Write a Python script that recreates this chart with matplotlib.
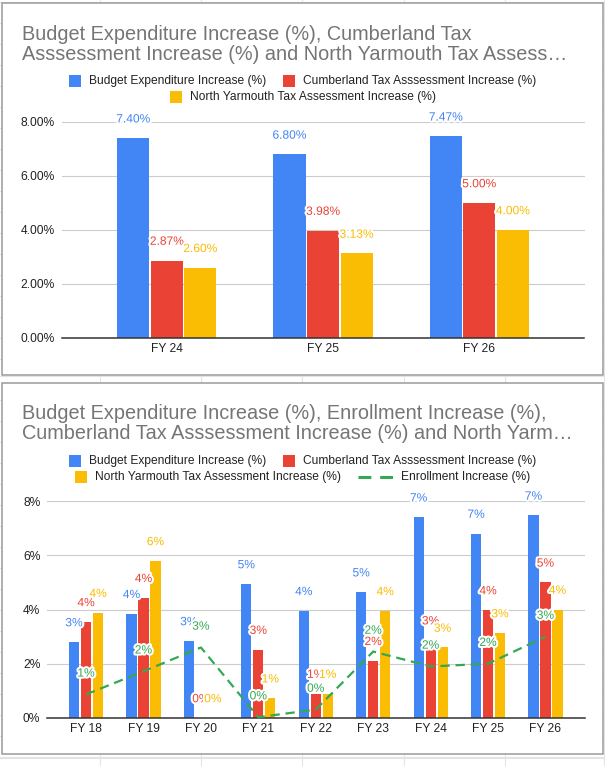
import matplotlib
matplotlib.use('Agg')
import matplotlib.pyplot as plt
import matplotlib.patheffects as pe
from matplotlib.patches import Rectangle
from matplotlib.lines import Line2D
import numpy as np

# ---------------- data ----------------
categories = ['FY 18', 'FY 19', 'FY 20', 'FY 21', 'FY 22', 'FY 23', 'FY 24', 'FY 25', 'FY 26']
budget = [2.80, 3.84, 2.84, 4.94, 3.95, 4.64, 7.40, 6.80, 7.47]
cumberland = [3.54, 4.43, 0.00, 2.52, 0.90, 2.11, 2.87, 3.98, 5.00]
north_yarmouth = [3.88, 5.79, 0.00, 0.73, 0.90, 3.95, 2.60, 3.13, 4.00]
enrollment = [0.87, 1.72, 2.60, 0.03, 0.31, 2.45, 1.90, 2.00, 3.00]

top_categories = ['FY 24', 'FY 25', 'FY 26']
top_budget = [7.40, 6.80, 7.47]
top_cumberland = [2.87, 3.98, 5.00]
top_north_yarmouth = [2.60, 3.13, 4.00]

top_yticks = [0, 2, 4, 6, 8]
top_yticklabels = ['0.00%', '2.00%', '4.00%', '6.00%', '8.00%']
bot_yticks = [0, 2, 4, 6, 8]
bot_yticklabels = ['0%', '2%', '4%', '6%', '8%']

name_budget = 'Budget Expenditure Increase (%)'
name_cumb = 'Cumberland Tax Asssessment Increase (%)'
name_ny = 'North Yarmouth Tax Assessment Increase (%)'
name_enr = 'Enrollment Increase (%)'

BLUE = '#4285F4'
RED = '#EA4335'
YELLOW = '#FBBC04'
GREEN = '#34A853'
TITLE_C = '#757575'
TEXT_C = '#222222'

plt.rcParams['font.family'] = ['Liberation Sans', 'DejaVu Sans']

W, H = 605, 766
fig = plt.figure(figsize=(W / 100, H / 100), dpi=100)
fig.patch.set_facecolor('white')

FS = 8.64  # 12 px


def fx(x):
    return x / W


def fy(y):
    return 1 - y / H


# spreadsheet background grid
for x in [100, 201, 302, 403.5, 504.6, 603.5]:
    fig.add_artist(Line2D([fx(x), fx(x)], [0, 1], transform=fig.transFigure,
                          color='#e3e3e3', lw=0.8, zorder=-5))
for y in list(np.arange(2.3, 380, 21.0)) + [376, 757.5]:
    fig.add_artist(Line2D([0, 1], [fy(y), fy(y)], transform=fig.transFigure,
                          color='#e3e3e3', lw=0.8, zorder=-5))
for y in np.arange(400, 766, 21.0):
    fig.add_artist(Line2D([0, 1], [fy(y), fy(y)], transform=fig.transFigure,
                          color='#e3e3e3', lw=0.8, zorder=-5))

# panels
for (y0, y1) in [(3, 374.7), (383, 754.3)]:
    fig.add_artist(Rectangle((fx(2), fy(y1)), fx(602.7) - fx(2), fy(y0) - fy(y1),
                             transform=fig.transFigure, facecolor='white',
                             edgecolor='#9a9a9a', lw=1.1, zorder=-1))

halo = [pe.withStroke(linewidth=3, foreground='white')]


def title(lines, y_base):
    for i, t in enumerate(lines):
        fig.text(fx(22), fy(y_base + 20 * i), t, fontsize=14.3, color=TITLE_C,
                 va='baseline', ha='left')


def legend_row(items, yc):
    sq = 12
    gap = 8
    spacing = 17
    renderer = fig.canvas.get_renderer()
    widths = []
    texts = []
    for kind, color, label in items:
        t = fig.text(0, 0, label, fontsize=FS, color=TEXT_C, va='center', ha='left')
        bb = t.get_window_extent(renderer)
        widths.append(bb.width)
        texts.append(t)
    hw = [sq if k == 'sq' else 35 for k, _, _ in items]
    total = sum(hw) + sum(widths) + gap * len(items) + spacing * (len(items) - 1)
    x = W / 2 - total / 2
    for (kind, color, label), t, w, h in zip(items, texts, widths, hw):
        if kind == 'sq':
            fig.add_artist(Rectangle((fx(x), fy(yc + sq / 2)), sq / W, sq / H,
                                     transform=fig.transFigure, facecolor=color,
                                     edgecolor='none'))
        else:
            fig.add_artist(Line2D([fx(x), fx(x + 35)], [fy(yc), fy(yc)],
                                  transform=fig.transFigure, color=color, lw=2.2,
                                  dashes=(4.2, 2.9), dash_capstyle='butt'))
        x += h + gap
        t.set_position((fx(x), fy(yc)))
        x += w + spacing


def style_axes(ax, yticks, yticklabels, cats, xlim):
    ax.set_facecolor('none')
    ax.set_ylim(0, 8)
    ax.set_xlim(*xlim)
    ax.set_yticks(yticks)
    ax.set_yticklabels(yticklabels)
    ax.set_xticks(np.arange(len(cats)))
    ax.set_xticklabels(cats)
    ax.tick_params(axis='both', length=0, labelsize=FS, labelcolor=TEXT_C)
    ax.tick_params(axis='y', pad=4.8)
    ax.tick_params(axis='x', pad=3.5)
    for s in ['top', 'right', 'left']:
        ax.spines[s].set_visible(False)
    ax.spines['bottom'].set_color('#333333')
    ax.spines['bottom'].set_linewidth(1.1)
    ax.spines['bottom'].set_zorder(3)
    ax.grid(axis='y', color='#cccccc', lw=0.8)
    ax.set_axisbelow(True)


def bar_labels(ax, xs, vals, color, fmt, off=13.5):
    for x, v in zip(xs, vals):
        ax.annotate(fmt.format(v), (x, v), xytext=(0, off), textcoords='offset points',
                    ha='center', va='center', fontsize=FS, color=color,
                    path_effects=halo, zorder=6, annotation_clip=False)


# ---------------- top chart ----------------
title(['Budget Expenditure Increase (%), Cumberland Tax',
       'Asssessment Increase (%) and North Yarmouth Tax Assess\u2026'], 39.5)
legend_row([('sq', BLUE, name_budget), ('sq', RED, name_cumb)], 80.7)
legend_row([('sq', YELLOW, name_ny)], 96.7)

ax1 = fig.add_axes([fx(61.7), fy(338), (584.5 - 61.7) / W, (338 - 122) / H])
style_axes(ax1, top_yticks, top_yticklabels, top_categories, (-0.673, 2.673))
x = np.arange(len(top_categories))
bw, st = 0.205, 0.215
for off, vals, c in [(-st, top_budget, BLUE), (0, top_cumberland, RED), (st, top_north_yarmouth, YELLOW)]:
    ax1.bar(x + off, vals, width=bw, color=c, zorder=2)
    bar_labels(ax1, x + off, vals, c, '{:.2f}%')

# ---------------- bottom chart ----------------
title(['Budget Expenditure Increase (%), Enrollment Increase (%),',
       'Cumberland Tax Asssessment Increase (%) and North Yarm\u2026'], 419.3)
legend_row([('sq', BLUE, name_budget), ('sq', RED, name_cumb)], 460.7)
legend_row([('sq', YELLOW, name_ny), ('line', GREEN, name_enr)], 476.7)

ax2 = fig.add_axes([fx(47), fy(718), (584.5 - 47) / W, (718 - 501) / H])
style_axes(ax2, bot_yticks, bot_yticklabels, categories, (-0.68, 8.68))
x = np.arange(len(categories))
bw, st = 0.177, 0.209
for off, vals, c in [(-st, budget, BLUE), (0, cumberland, RED), (st, north_yarmouth, YELLOW)]:
    ax2.bar(x + off, vals, width=bw, color=c, zorder=2)
    bar_labels(ax2, x + off, vals, c, '{:.0f}%')
ax2.plot(x, enrollment, color=GREEN, lw=1.6, dashes=(4.2, 2.6), zorder=4,
         dash_capstyle='butt', clip_on=False)
bar_labels(ax2, x, enrollment, GREEN, '{:.0f}%', off=15)

fig.savefig('out.png', dpi=100, facecolor='white')
